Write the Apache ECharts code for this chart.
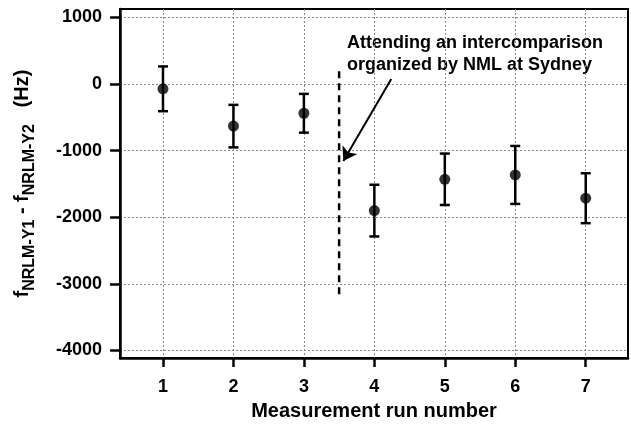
<!DOCTYPE html>
<html>
<head>
<meta charset="utf-8">
<script src="https://cdn.jsdelivr.net/npm/echarts@6/dist/echarts.min.js"></script>
<style>
  html, body { margin: 0; padding: 0; background: #fff; }
  #chart { width: 631px; height: 426px; }
</style>
</head>
<body>
<div id="chart"></div>
<script>
// measurement runs and frequency difference (Hz)
const runs = [1, 2, 3, 4, 5, 6, 7]
const diffs = [-73, -633, -440, -1901, -1431, -1366, -1715]
const errs = [336, 319, 291, 388, 386, 435, 375]

const xTicks = [1, 2, 3, 4, 5, 6, 7]
const yTicks = [-4000, -3000, -2000, -1000, 0, 1000]

// intercomparison marker (dashed) and arrow
const dashedLine = [[3.5, 190], [3.5, -3180]]
const arrowFrom = [4.24, 75]
const arrowTo = [3.56, -1155]

const FONT = "'Liberation Sans', Arial, sans-serif"

const chart = echarts.init(document.getElementById('chart'))

const errData = runs.map((r, i) => [r, diffs[i] - errs[i], diffs[i] + errs[i]])
const points = runs.map((r, i) => [r, diffs[i]])

const option = {
  animation: false,
  grid: {
    left: 120,
    right: 3,
    top: 9,
    bottom: 66,
    show: true,
    borderColor: '#000',
    borderWidth: 2,
  },
  xAxis: {
    type: 'value',
    min: 0.39,
    max: 7.6,
    name: 'Measurement run number',
    nameLocation: 'middle',
    nameGap: 38,
    nameTextStyle: { fontFamily: FONT, fontSize: 20, fontWeight: 'bold', color: '#000' },
    axisLine: { onZero: false, lineStyle: { color: '#000', width: 2.5 } },
    axisTick: { inside: false, length: 9, lineStyle: { width: 2.5, color: '#000' }, customValues: xTicks },
    axisLabel: {
      customValues: xTicks,
      margin: 20,
      fontFamily: FONT, fontSize: 18, fontWeight: 'bold', color: '#000',
    },
    splitLine: { show: true, lineStyle: { color: '#888', width: 1, type: [2, 2] } },
  },
  yAxis: {
    type: 'value',
    min: -4115,
    max: 1125,
    name: '{f|f}{s|NRLM-Y1}{f| - f}{s|NRLM-Y2}{f|   (Hz)}',
    nameLocation: 'middle',
    nameRotate: 90,
    nameGap: 82,
    nameTextStyle: {
      color: '#000',
      rich: {
        f: { fontFamily: FONT, fontSize: 20, fontWeight: 'bold', color: '#000', lineHeight: 20, verticalAlign: 'top' },
        s: { fontFamily: FONT, fontSize: 16, fontWeight: 'bold', color: '#000', lineHeight: 26, verticalAlign: 'bottom' },
      },
    },
    axisLine: { onZero: false, lineStyle: { color: '#000', width: 2.5 } },
    axisTick: { inside: false, length: 10, lineStyle: { width: 2.5, color: '#000' }, customValues: yTicks },
    axisLabel: {
      customValues: yTicks,
      margin: 18,
      formatter: (v) => String(v),
      fontFamily: FONT, fontSize: 18, fontWeight: 'bold', color: '#000',
    },
    splitLine: { show: true, lineStyle: { color: '#888', width: 1, type: [2, 2] } },
  },
  series: [
    {
      // error bars
      type: 'custom',
      data: errData,
      renderItem(params, api) {
        const x = api.value(0)
        const lo = api.coord([x, api.value(1)])
        const hi = api.coord([x, api.value(2)])
        const w = 5
        const style = { stroke: '#000', lineWidth: 2.5 }
        return {
          type: 'group',
          children: [
            { type: 'line', shape: { x1: lo[0], y1: lo[1], x2: hi[0], y2: hi[1] }, style },
            { type: 'line', shape: { x1: lo[0] - w, y1: lo[1], x2: lo[0] + w, y2: lo[1] }, style },
            { type: 'line', shape: { x1: hi[0] - w, y1: hi[1], x2: hi[0] + w, y2: hi[1] }, style },
          ],
        }
      },
      z: 3,
    },
    {
      type: 'scatter',
      data: points,
      symbol: 'circle',
      symbolSize: 11,
      itemStyle: { color: '#000' },
      z: 4,
    },
    {
      // dashed divider + arrow
      type: 'line',
      data: dashedLine,
      symbol: 'none',
      lineStyle: { color: '#000', width: 2.5, type: [7, 5] },
      markLine: {
        silent: true,
        symbol: ['none', 'arrow'],
        symbolSize: 13,
        label: { show: false },
        lineStyle: { color: '#000', width: 2, type: 'solid' },
        data: [[{ coord: arrowFrom }, { coord: arrowTo }]],
      },
      z: 2,
    },
  ],
  graphic: [
    {
      type: 'text',
      left: 347,
      top: 32,
      style: {
        text: 'Attending an intercomparison\norganized by NML at Sydney',
        font: 'bold 18px ' + FONT,
        lineHeight: 22,
        fill: '#000',
      },
    },
  ],
}

chart.setOption(option)
</script>
</body>
</html>
